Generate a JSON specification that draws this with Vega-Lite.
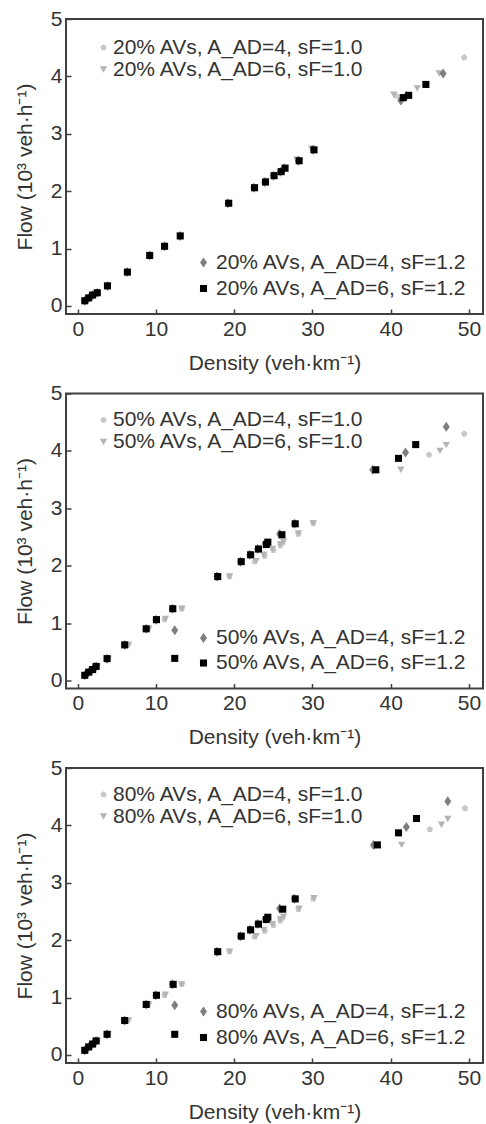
{
  "$schema": "https://vega.github.io/schema/vega-lite/v6.json",
  "padding": {"left": 13, "top": 7, "right": 0, "bottom": 0},
  "bounds": "flush",
  "spacing": 79.5,
  "config": {
    "font": "Liberation Sans",
    "view": {"stroke": "#404040", "strokeWidth": 2},
    "axis": {"domain": false, "grid": false, "tickColor": "#404040", "tickSize": -5, "tickWidth": 1.5, "labelFlush": false, "labelFont": "Liberation Sans", "labelFontSize": 21, "labelColor": "#333333", "titleFont": "Liberation Sans", "titleFontSize": 21, "titleFontWeight": "normal", "titleColor": "#333333", "format": "d"},
    "axisX": {"labelPadding": 9, "titlePadding": 13},
    "axisY": {"labelPadding": 9, "titlePadding": 15},
    "legend": {"labelFont": "Liberation Sans", "labelFontSize": 21, "labelColor": "#333333", "symbolStrokeWidth": 0, "padding": 0, "labelLimit": 400}
  },
  "datasets": {
    "d": [
      {"p":"20","s":"20% AVs, A_AD=4, sF=1.0","g":"1.0","k":0.95,"q":0.09},
      {"p":"20","s":"20% AVs, A_AD=4, sF=1.0","g":"1.0","k":1.45,"q":0.14},
      {"p":"20","s":"20% AVs, A_AD=4, sF=1.0","g":"1.0","k":1.95,"q":0.19},
      {"p":"20","s":"20% AVs, A_AD=4, sF=1.0","g":"1.0","k":2.5,"q":0.23},
      {"p":"20","s":"20% AVs, A_AD=4, sF=1.0","g":"1.0","k":3.85,"q":0.35},
      {"p":"20","s":"20% AVs, A_AD=4, sF=1.0","g":"1.0","k":6.4,"q":0.59},
      {"p":"20","s":"20% AVs, A_AD=4, sF=1.0","g":"1.0","k":9.2,"q":0.88},
      {"p":"20","s":"20% AVs, A_AD=4, sF=1.0","g":"1.0","k":11.1,"q":1.04},
      {"p":"20","s":"20% AVs, A_AD=4, sF=1.0","g":"1.0","k":13.1,"q":1.22},
      {"p":"20","s":"20% AVs, A_AD=4, sF=1.0","g":"1.0","k":19.3,"q":1.79},
      {"p":"20","s":"20% AVs, A_AD=4, sF=1.0","g":"1.0","k":22.6,"q":2.06},
      {"p":"20","s":"20% AVs, A_AD=4, sF=1.0","g":"1.0","k":24.0,"q":2.16},
      {"p":"20","s":"20% AVs, A_AD=4, sF=1.0","g":"1.0","k":25.1,"q":2.27},
      {"p":"20","s":"20% AVs, A_AD=4, sF=1.0","g":"1.0","k":26.0,"q":2.34},
      {"p":"20","s":"20% AVs, A_AD=4, sF=1.0","g":"1.0","k":26.5,"q":2.4},
      {"p":"20","s":"20% AVs, A_AD=4, sF=1.0","g":"1.0","k":28.3,"q":2.53},
      {"p":"20","s":"20% AVs, A_AD=4, sF=1.0","g":"1.0","k":30.2,"q":2.72},
      {"p":"20","s":"20% AVs, A_AD=4, sF=1.0","g":"1.0","k":40.7,"q":3.66},
      {"p":"20","s":"20% AVs, A_AD=4, sF=1.0","g":"1.0","k":41.6,"q":3.6},
      {"p":"20","s":"20% AVs, A_AD=4, sF=1.0","g":"1.0","k":49.4,"q":4.33},
      {"p":"20","s":"20% AVs, A_AD=6, sF=1.0","g":"1.0","k":0.95,"q":0.09},
      {"p":"20","s":"20% AVs, A_AD=6, sF=1.0","g":"1.0","k":1.45,"q":0.14},
      {"p":"20","s":"20% AVs, A_AD=6, sF=1.0","g":"1.0","k":1.95,"q":0.19},
      {"p":"20","s":"20% AVs, A_AD=6, sF=1.0","g":"1.0","k":2.5,"q":0.23},
      {"p":"20","s":"20% AVs, A_AD=6, sF=1.0","g":"1.0","k":3.85,"q":0.35},
      {"p":"20","s":"20% AVs, A_AD=6, sF=1.0","g":"1.0","k":6.4,"q":0.59},
      {"p":"20","s":"20% AVs, A_AD=6, sF=1.0","g":"1.0","k":9.2,"q":0.88},
      {"p":"20","s":"20% AVs, A_AD=6, sF=1.0","g":"1.0","k":11.1,"q":1.04},
      {"p":"20","s":"20% AVs, A_AD=6, sF=1.0","g":"1.0","k":13.1,"q":1.22},
      {"p":"20","s":"20% AVs, A_AD=6, sF=1.0","g":"1.0","k":19.3,"q":1.79},
      {"p":"20","s":"20% AVs, A_AD=6, sF=1.0","g":"1.0","k":22.6,"q":2.07},
      {"p":"20","s":"20% AVs, A_AD=6, sF=1.0","g":"1.0","k":24.1,"q":2.18},
      {"p":"20","s":"20% AVs, A_AD=6, sF=1.0","g":"1.0","k":25.1,"q":2.28},
      {"p":"20","s":"20% AVs, A_AD=6, sF=1.0","g":"1.0","k":26.0,"q":2.35},
      {"p":"20","s":"20% AVs, A_AD=6, sF=1.0","g":"1.0","k":26.5,"q":2.41},
      {"p":"20","s":"20% AVs, A_AD=6, sF=1.0","g":"1.0","k":28.0,"q":2.55},
      {"p":"20","s":"20% AVs, A_AD=6, sF=1.0","g":"1.0","k":29.9,"q":2.74},
      {"p":"20","s":"20% AVs, A_AD=6, sF=1.0","g":"1.0","k":40.4,"q":3.68},
      {"p":"20","s":"20% AVs, A_AD=6, sF=1.0","g":"1.0","k":41.3,"q":3.57},
      {"p":"20","s":"20% AVs, A_AD=6, sF=1.0","g":"1.0","k":43.4,"q":3.79},
      {"p":"20","s":"20% AVs, A_AD=6, sF=1.0","g":"1.0","k":46.2,"q":4.05},
      {"p":"20","s":"20% AVs, A_AD=4, sF=1.2","g":"1.2","k":0.9,"q":0.09},
      {"p":"20","s":"20% AVs, A_AD=4, sF=1.2","g":"1.2","k":1.4,"q":0.14},
      {"p":"20","s":"20% AVs, A_AD=4, sF=1.2","g":"1.2","k":1.9,"q":0.19},
      {"p":"20","s":"20% AVs, A_AD=4, sF=1.2","g":"1.2","k":2.5,"q":0.23},
      {"p":"20","s":"20% AVs, A_AD=4, sF=1.2","g":"1.2","k":3.8,"q":0.35},
      {"p":"20","s":"20% AVs, A_AD=4, sF=1.2","g":"1.2","k":6.3,"q":0.59},
      {"p":"20","s":"20% AVs, A_AD=4, sF=1.2","g":"1.2","k":9.2,"q":0.88},
      {"p":"20","s":"20% AVs, A_AD=4, sF=1.2","g":"1.2","k":11.1,"q":1.04},
      {"p":"20","s":"20% AVs, A_AD=4, sF=1.2","g":"1.2","k":13.1,"q":1.22},
      {"p":"20","s":"20% AVs, A_AD=4, sF=1.2","g":"1.2","k":19.2,"q":1.79},
      {"p":"20","s":"20% AVs, A_AD=4, sF=1.2","g":"1.2","k":22.5,"q":2.06},
      {"p":"20","s":"20% AVs, A_AD=4, sF=1.2","g":"1.2","k":23.9,"q":2.16},
      {"p":"20","s":"20% AVs, A_AD=4, sF=1.2","g":"1.2","k":25.0,"q":2.27},
      {"p":"20","s":"20% AVs, A_AD=4, sF=1.2","g":"1.2","k":25.9,"q":2.34},
      {"p":"20","s":"20% AVs, A_AD=4, sF=1.2","g":"1.2","k":26.4,"q":2.4},
      {"p":"20","s":"20% AVs, A_AD=4, sF=1.2","g":"1.2","k":28.2,"q":2.53},
      {"p":"20","s":"20% AVs, A_AD=4, sF=1.2","g":"1.2","k":30.1,"q":2.72},
      {"p":"20","s":"20% AVs, A_AD=4, sF=1.2","g":"1.2","k":41.3,"q":3.58},
      {"p":"20","s":"20% AVs, A_AD=4, sF=1.2","g":"1.2","k":42.0,"q":3.66},
      {"p":"20","s":"20% AVs, A_AD=4, sF=1.2","g":"1.2","k":46.7,"q":4.05},
      {"p":"20","s":"20% AVs, A_AD=6, sF=1.2","g":"1.2","k":0.9,"q":0.09},
      {"p":"20","s":"20% AVs, A_AD=6, sF=1.2","g":"1.2","k":1.4,"q":0.14},
      {"p":"20","s":"20% AVs, A_AD=6, sF=1.2","g":"1.2","k":1.9,"q":0.19},
      {"p":"20","s":"20% AVs, A_AD=6, sF=1.2","g":"1.2","k":2.5,"q":0.23},
      {"p":"20","s":"20% AVs, A_AD=6, sF=1.2","g":"1.2","k":3.8,"q":0.35},
      {"p":"20","s":"20% AVs, A_AD=6, sF=1.2","g":"1.2","k":6.35,"q":0.59},
      {"p":"20","s":"20% AVs, A_AD=6, sF=1.2","g":"1.2","k":9.2,"q":0.88},
      {"p":"20","s":"20% AVs, A_AD=6, sF=1.2","g":"1.2","k":11.1,"q":1.04},
      {"p":"20","s":"20% AVs, A_AD=6, sF=1.2","g":"1.2","k":13.1,"q":1.22},
      {"p":"20","s":"20% AVs, A_AD=6, sF=1.2","g":"1.2","k":19.3,"q":1.79},
      {"p":"20","s":"20% AVs, A_AD=6, sF=1.2","g":"1.2","k":22.6,"q":2.06},
      {"p":"20","s":"20% AVs, A_AD=6, sF=1.2","g":"1.2","k":24.0,"q":2.16},
      {"p":"20","s":"20% AVs, A_AD=6, sF=1.2","g":"1.2","k":25.1,"q":2.27},
      {"p":"20","s":"20% AVs, A_AD=6, sF=1.2","g":"1.2","k":26.0,"q":2.34},
      {"p":"20","s":"20% AVs, A_AD=6, sF=1.2","g":"1.2","k":26.5,"q":2.4},
      {"p":"20","s":"20% AVs, A_AD=6, sF=1.2","g":"1.2","k":28.3,"q":2.53},
      {"p":"20","s":"20% AVs, A_AD=6, sF=1.2","g":"1.2","k":30.2,"q":2.72},
      {"p":"20","s":"20% AVs, A_AD=6, sF=1.2","g":"1.2","k":41.6,"q":3.63},
      {"p":"20","s":"20% AVs, A_AD=6, sF=1.2","g":"1.2","k":42.3,"q":3.67},
      {"p":"20","s":"20% AVs, A_AD=6, sF=1.2","g":"1.2","k":44.5,"q":3.86},

      {"p":"50","s":"50% AVs, A_AD=4, sF=1.0","g":"1.0","k":1.0,"q":0.09},
      {"p":"50","s":"50% AVs, A_AD=4, sF=1.0","g":"1.0","k":1.5,"q":0.14},
      {"p":"50","s":"50% AVs, A_AD=4, sF=1.0","g":"1.0","k":2.0,"q":0.19},
      {"p":"50","s":"50% AVs, A_AD=4, sF=1.0","g":"1.0","k":2.5,"q":0.24},
      {"p":"50","s":"50% AVs, A_AD=4, sF=1.0","g":"1.0","k":3.9,"q":0.38},
      {"p":"50","s":"50% AVs, A_AD=4, sF=1.0","g":"1.0","k":6.4,"q":0.62},
      {"p":"50","s":"50% AVs, A_AD=4, sF=1.0","g":"1.0","k":9.0,"q":0.9},
      {"p":"50","s":"50% AVs, A_AD=4, sF=1.0","g":"1.0","k":11.1,"q":1.06},
      {"p":"50","s":"50% AVs, A_AD=4, sF=1.0","g":"1.0","k":13.3,"q":1.25},
      {"p":"50","s":"50% AVs, A_AD=4, sF=1.0","g":"1.0","k":19.4,"q":1.81},
      {"p":"50","s":"50% AVs, A_AD=4, sF=1.0","g":"1.0","k":22.6,"q":2.07},
      {"p":"50","s":"50% AVs, A_AD=4, sF=1.0","g":"1.0","k":23.9,"q":2.17},
      {"p":"50","s":"50% AVs, A_AD=4, sF=1.0","g":"1.0","k":25.0,"q":2.27},
      {"p":"50","s":"50% AVs, A_AD=4, sF=1.0","g":"1.0","k":25.9,"q":2.35},
      {"p":"50","s":"50% AVs, A_AD=4, sF=1.0","g":"1.0","k":26.2,"q":2.4},
      {"p":"50","s":"50% AVs, A_AD=4, sF=1.0","g":"1.0","k":28.2,"q":2.55},
      {"p":"50","s":"50% AVs, A_AD=4, sF=1.0","g":"1.0","k":30.1,"q":2.74},
      {"p":"50","s":"50% AVs, A_AD=4, sF=1.0","g":"1.0","k":37.9,"q":3.66},
      {"p":"50","s":"50% AVs, A_AD=4, sF=1.0","g":"1.0","k":44.9,"q":3.93},
      {"p":"50","s":"50% AVs, A_AD=4, sF=1.0","g":"1.0","k":49.4,"q":4.3},
      {"p":"50","s":"50% AVs, A_AD=6, sF=1.0","g":"1.0","k":1.0,"q":0.09},
      {"p":"50","s":"50% AVs, A_AD=6, sF=1.0","g":"1.0","k":1.5,"q":0.14},
      {"p":"50","s":"50% AVs, A_AD=6, sF=1.0","g":"1.0","k":2.0,"q":0.19},
      {"p":"50","s":"50% AVs, A_AD=6, sF=1.0","g":"1.0","k":2.5,"q":0.24},
      {"p":"50","s":"50% AVs, A_AD=6, sF=1.0","g":"1.0","k":3.9,"q":0.38},
      {"p":"50","s":"50% AVs, A_AD=6, sF=1.0","g":"1.0","k":6.5,"q":0.62},
      {"p":"50","s":"50% AVs, A_AD=6, sF=1.0","g":"1.0","k":9.1,"q":0.9},
      {"p":"50","s":"50% AVs, A_AD=6, sF=1.0","g":"1.0","k":11.2,"q":1.07},
      {"p":"50","s":"50% AVs, A_AD=6, sF=1.0","g":"1.0","k":13.3,"q":1.25},
      {"p":"50","s":"50% AVs, A_AD=6, sF=1.0","g":"1.0","k":19.4,"q":1.81},
      {"p":"50","s":"50% AVs, A_AD=6, sF=1.0","g":"1.0","k":22.8,"q":2.08},
      {"p":"50","s":"50% AVs, A_AD=6, sF=1.0","g":"1.0","k":23.8,"q":2.19},
      {"p":"50","s":"50% AVs, A_AD=6, sF=1.0","g":"1.0","k":24.9,"q":2.29},
      {"p":"50","s":"50% AVs, A_AD=6, sF=1.0","g":"1.0","k":25.9,"q":2.37},
      {"p":"50","s":"50% AVs, A_AD=6, sF=1.0","g":"1.0","k":26.3,"q":2.42},
      {"p":"50","s":"50% AVs, A_AD=6, sF=1.0","g":"1.0","k":28.2,"q":2.56},
      {"p":"50","s":"50% AVs, A_AD=6, sF=1.0","g":"1.0","k":30.1,"q":2.74},
      {"p":"50","s":"50% AVs, A_AD=6, sF=1.0","g":"1.0","k":41.3,"q":3.67},
      {"p":"50","s":"50% AVs, A_AD=6, sF=1.0","g":"1.0","k":46.3,"q":4.0},
      {"p":"50","s":"50% AVs, A_AD=6, sF=1.0","g":"1.0","k":47.1,"q":4.1},
      {"p":"50","s":"50% AVs, A_AD=4, sF=1.2","g":"1.2","k":0.9,"q":0.09},
      {"p":"50","s":"50% AVs, A_AD=4, sF=1.2","g":"1.2","k":1.4,"q":0.145},
      {"p":"50","s":"50% AVs, A_AD=4, sF=1.2","g":"1.2","k":1.9,"q":0.19},
      {"p":"50","s":"50% AVs, A_AD=4, sF=1.2","g":"1.2","k":2.35,"q":0.245},
      {"p":"50","s":"50% AVs, A_AD=4, sF=1.2","g":"1.2","k":3.75,"q":0.38},
      {"p":"50","s":"50% AVs, A_AD=4, sF=1.2","g":"1.2","k":6.0,"q":0.62},
      {"p":"50","s":"50% AVs, A_AD=4, sF=1.2","g":"1.2","k":8.75,"q":0.9},
      {"p":"50","s":"50% AVs, A_AD=4, sF=1.2","g":"1.2","k":10.0,"q":1.06},
      {"p":"50","s":"50% AVs, A_AD=4, sF=1.2","g":"1.2","k":12.1,"q":1.25},
      {"p":"50","s":"50% AVs, A_AD=4, sF=1.2","g":"1.2","k":12.4,"q":0.875},
      {"p":"50","s":"50% AVs, A_AD=4, sF=1.2","g":"1.2","k":17.8,"q":1.81},
      {"p":"50","s":"50% AVs, A_AD=4, sF=1.2","g":"1.2","k":20.8,"q":2.07},
      {"p":"50","s":"50% AVs, A_AD=4, sF=1.2","g":"1.2","k":22.0,"q":2.19},
      {"p":"50","s":"50% AVs, A_AD=4, sF=1.2","g":"1.2","k":23.0,"q":2.29},
      {"p":"50","s":"50% AVs, A_AD=4, sF=1.2","g":"1.2","k":24.0,"q":2.38},
      {"p":"50","s":"50% AVs, A_AD=4, sF=1.2","g":"1.2","k":25.8,"q":2.55},
      {"p":"50","s":"50% AVs, A_AD=4, sF=1.2","g":"1.2","k":27.7,"q":2.73},
      {"p":"50","s":"50% AVs, A_AD=4, sF=1.2","g":"1.2","k":37.7,"q":3.67},
      {"p":"50","s":"50% AVs, A_AD=4, sF=1.2","g":"1.2","k":41.9,"q":3.97},
      {"p":"50","s":"50% AVs, A_AD=4, sF=1.2","g":"1.2","k":47.1,"q":4.42},
      {"p":"50","s":"50% AVs, A_AD=6, sF=1.2","g":"1.2","k":0.9,"q":0.09},
      {"p":"50","s":"50% AVs, A_AD=6, sF=1.2","g":"1.2","k":1.4,"q":0.145},
      {"p":"50","s":"50% AVs, A_AD=6, sF=1.2","g":"1.2","k":1.9,"q":0.19},
      {"p":"50","s":"50% AVs, A_AD=6, sF=1.2","g":"1.2","k":2.35,"q":0.245},
      {"p":"50","s":"50% AVs, A_AD=6, sF=1.2","g":"1.2","k":3.75,"q":0.38},
      {"p":"50","s":"50% AVs, A_AD=6, sF=1.2","g":"1.2","k":6.0,"q":0.62},
      {"p":"50","s":"50% AVs, A_AD=6, sF=1.2","g":"1.2","k":8.75,"q":0.9},
      {"p":"50","s":"50% AVs, A_AD=6, sF=1.2","g":"1.2","k":10.06,"q":1.06},
      {"p":"50","s":"50% AVs, A_AD=6, sF=1.2","g":"1.2","k":12.15,"q":1.25},
      {"p":"50","s":"50% AVs, A_AD=6, sF=1.2","g":"1.2","k":12.4,"q":0.385},
      {"p":"50","s":"50% AVs, A_AD=6, sF=1.2","g":"1.2","k":17.9,"q":1.81},
      {"p":"50","s":"50% AVs, A_AD=6, sF=1.2","g":"1.2","k":20.9,"q":2.07},
      {"p":"50","s":"50% AVs, A_AD=6, sF=1.2","g":"1.2","k":22.1,"q":2.19},
      {"p":"50","s":"50% AVs, A_AD=6, sF=1.2","g":"1.2","k":23.1,"q":2.29},
      {"p":"50","s":"50% AVs, A_AD=6, sF=1.2","g":"1.2","k":24.1,"q":2.37},
      {"p":"50","s":"50% AVs, A_AD=6, sF=1.2","g":"1.2","k":24.3,"q":2.41},
      {"p":"50","s":"50% AVs, A_AD=6, sF=1.2","g":"1.2","k":26.1,"q":2.54},
      {"p":"50","s":"50% AVs, A_AD=6, sF=1.2","g":"1.2","k":27.8,"q":2.73},
      {"p":"50","s":"50% AVs, A_AD=6, sF=1.2","g":"1.2","k":38.1,"q":3.67},
      {"p":"50","s":"50% AVs, A_AD=6, sF=1.2","g":"1.2","k":41.0,"q":3.87},
      {"p":"50","s":"50% AVs, A_AD=6, sF=1.2","g":"1.2","k":43.2,"q":4.11},

      {"p":"80","s":"80% AVs, A_AD=4, sF=1.0","g":"1.0","k":1.0,"q":0.08},
      {"p":"80","s":"80% AVs, A_AD=4, sF=1.0","g":"1.0","k":1.5,"q":0.14},
      {"p":"80","s":"80% AVs, A_AD=4, sF=1.0","g":"1.0","k":2.0,"q":0.19},
      {"p":"80","s":"80% AVs, A_AD=4, sF=1.0","g":"1.0","k":2.5,"q":0.24},
      {"p":"80","s":"80% AVs, A_AD=4, sF=1.0","g":"1.0","k":3.9,"q":0.36},
      {"p":"80","s":"80% AVs, A_AD=4, sF=1.0","g":"1.0","k":6.4,"q":0.6},
      {"p":"80","s":"80% AVs, A_AD=4, sF=1.0","g":"1.0","k":9.0,"q":0.88},
      {"p":"80","s":"80% AVs, A_AD=4, sF=1.0","g":"1.0","k":11.1,"q":1.04},
      {"p":"80","s":"80% AVs, A_AD=4, sF=1.0","g":"1.0","k":13.3,"q":1.23},
      {"p":"80","s":"80% AVs, A_AD=4, sF=1.0","g":"1.0","k":19.4,"q":1.8},
      {"p":"80","s":"80% AVs, A_AD=4, sF=1.0","g":"1.0","k":22.6,"q":2.06},
      {"p":"80","s":"80% AVs, A_AD=4, sF=1.0","g":"1.0","k":23.9,"q":2.16},
      {"p":"80","s":"80% AVs, A_AD=4, sF=1.0","g":"1.0","k":25.0,"q":2.26},
      {"p":"80","s":"80% AVs, A_AD=4, sF=1.0","g":"1.0","k":25.9,"q":2.34},
      {"p":"80","s":"80% AVs, A_AD=4, sF=1.0","g":"1.0","k":26.2,"q":2.39},
      {"p":"80","s":"80% AVs, A_AD=4, sF=1.0","g":"1.0","k":28.2,"q":2.54},
      {"p":"80","s":"80% AVs, A_AD=4, sF=1.0","g":"1.0","k":30.1,"q":2.72},
      {"p":"80","s":"80% AVs, A_AD=4, sF=1.0","g":"1.0","k":38.0,"q":3.65},
      {"p":"80","s":"80% AVs, A_AD=4, sF=1.0","g":"1.0","k":45.0,"q":3.93},
      {"p":"80","s":"80% AVs, A_AD=4, sF=1.0","g":"1.0","k":49.5,"q":4.3},
      {"p":"80","s":"80% AVs, A_AD=6, sF=1.0","g":"1.0","k":1.0,"q":0.08},
      {"p":"80","s":"80% AVs, A_AD=6, sF=1.0","g":"1.0","k":1.5,"q":0.14},
      {"p":"80","s":"80% AVs, A_AD=6, sF=1.0","g":"1.0","k":2.0,"q":0.19},
      {"p":"80","s":"80% AVs, A_AD=6, sF=1.0","g":"1.0","k":2.5,"q":0.24},
      {"p":"80","s":"80% AVs, A_AD=6, sF=1.0","g":"1.0","k":3.9,"q":0.36},
      {"p":"80","s":"80% AVs, A_AD=6, sF=1.0","g":"1.0","k":6.5,"q":0.6},
      {"p":"80","s":"80% AVs, A_AD=6, sF=1.0","g":"1.0","k":9.1,"q":0.88},
      {"p":"80","s":"80% AVs, A_AD=6, sF=1.0","g":"1.0","k":11.2,"q":1.05},
      {"p":"80","s":"80% AVs, A_AD=6, sF=1.0","g":"1.0","k":13.3,"q":1.23},
      {"p":"80","s":"80% AVs, A_AD=6, sF=1.0","g":"1.0","k":19.4,"q":1.8},
      {"p":"80","s":"80% AVs, A_AD=6, sF=1.0","g":"1.0","k":22.8,"q":2.07},
      {"p":"80","s":"80% AVs, A_AD=6, sF=1.0","g":"1.0","k":23.8,"q":2.18},
      {"p":"80","s":"80% AVs, A_AD=6, sF=1.0","g":"1.0","k":24.9,"q":2.28},
      {"p":"80","s":"80% AVs, A_AD=6, sF=1.0","g":"1.0","k":25.9,"q":2.36},
      {"p":"80","s":"80% AVs, A_AD=6, sF=1.0","g":"1.0","k":26.3,"q":2.41},
      {"p":"80","s":"80% AVs, A_AD=6, sF=1.0","g":"1.0","k":28.3,"q":2.55},
      {"p":"80","s":"80% AVs, A_AD=6, sF=1.0","g":"1.0","k":30.2,"q":2.73},
      {"p":"80","s":"80% AVs, A_AD=6, sF=1.0","g":"1.0","k":41.4,"q":3.66},
      {"p":"80","s":"80% AVs, A_AD=6, sF=1.0","g":"1.0","k":46.5,"q":4.01},
      {"p":"80","s":"80% AVs, A_AD=6, sF=1.0","g":"1.0","k":47.3,"q":4.11},
      {"p":"80","s":"80% AVs, A_AD=4, sF=1.2","g":"1.2","k":0.9,"q":0.08},
      {"p":"80","s":"80% AVs, A_AD=4, sF=1.2","g":"1.2","k":1.4,"q":0.14},
      {"p":"80","s":"80% AVs, A_AD=4, sF=1.2","g":"1.2","k":1.9,"q":0.19},
      {"p":"80","s":"80% AVs, A_AD=4, sF=1.2","g":"1.2","k":2.35,"q":0.245},
      {"p":"80","s":"80% AVs, A_AD=4, sF=1.2","g":"1.2","k":3.75,"q":0.36},
      {"p":"80","s":"80% AVs, A_AD=4, sF=1.2","g":"1.2","k":6.0,"q":0.6},
      {"p":"80","s":"80% AVs, A_AD=4, sF=1.2","g":"1.2","k":8.75,"q":0.88},
      {"p":"80","s":"80% AVs, A_AD=4, sF=1.2","g":"1.2","k":10.0,"q":1.04},
      {"p":"80","s":"80% AVs, A_AD=4, sF=1.2","g":"1.2","k":12.1,"q":1.23},
      {"p":"80","s":"80% AVs, A_AD=4, sF=1.2","g":"1.2","k":12.4,"q":0.865},
      {"p":"80","s":"80% AVs, A_AD=4, sF=1.2","g":"1.2","k":17.8,"q":1.8},
      {"p":"80","s":"80% AVs, A_AD=4, sF=1.2","g":"1.2","k":20.8,"q":2.07},
      {"p":"80","s":"80% AVs, A_AD=4, sF=1.2","g":"1.2","k":22.0,"q":2.18},
      {"p":"80","s":"80% AVs, A_AD=4, sF=1.2","g":"1.2","k":23.0,"q":2.28},
      {"p":"80","s":"80% AVs, A_AD=4, sF=1.2","g":"1.2","k":24.0,"q":2.37},
      {"p":"80","s":"80% AVs, A_AD=4, sF=1.2","g":"1.2","k":25.8,"q":2.55},
      {"p":"80","s":"80% AVs, A_AD=4, sF=1.2","g":"1.2","k":27.7,"q":2.72},
      {"p":"80","s":"80% AVs, A_AD=4, sF=1.2","g":"1.2","k":37.8,"q":3.66},
      {"p":"80","s":"80% AVs, A_AD=4, sF=1.2","g":"1.2","k":42.0,"q":3.97},
      {"p":"80","s":"80% AVs, A_AD=4, sF=1.2","g":"1.2","k":47.3,"q":4.42},
      {"p":"80","s":"80% AVs, A_AD=6, sF=1.2","g":"1.2","k":0.9,"q":0.08},
      {"p":"80","s":"80% AVs, A_AD=6, sF=1.2","g":"1.2","k":1.4,"q":0.14},
      {"p":"80","s":"80% AVs, A_AD=6, sF=1.2","g":"1.2","k":1.9,"q":0.19},
      {"p":"80","s":"80% AVs, A_AD=6, sF=1.2","g":"1.2","k":2.35,"q":0.245},
      {"p":"80","s":"80% AVs, A_AD=6, sF=1.2","g":"1.2","k":3.75,"q":0.36},
      {"p":"80","s":"80% AVs, A_AD=6, sF=1.2","g":"1.2","k":6.0,"q":0.6},
      {"p":"80","s":"80% AVs, A_AD=6, sF=1.2","g":"1.2","k":8.75,"q":0.88},
      {"p":"80","s":"80% AVs, A_AD=6, sF=1.2","g":"1.2","k":10.06,"q":1.04},
      {"p":"80","s":"80% AVs, A_AD=6, sF=1.2","g":"1.2","k":12.2,"q":1.23},
      {"p":"80","s":"80% AVs, A_AD=6, sF=1.2","g":"1.2","k":12.4,"q":0.36},
      {"p":"80","s":"80% AVs, A_AD=6, sF=1.2","g":"1.2","k":17.9,"q":1.8},
      {"p":"80","s":"80% AVs, A_AD=6, sF=1.2","g":"1.2","k":20.9,"q":2.07},
      {"p":"80","s":"80% AVs, A_AD=6, sF=1.2","g":"1.2","k":22.1,"q":2.18},
      {"p":"80","s":"80% AVs, A_AD=6, sF=1.2","g":"1.2","k":23.1,"q":2.28},
      {"p":"80","s":"80% AVs, A_AD=6, sF=1.2","g":"1.2","k":24.1,"q":2.36},
      {"p":"80","s":"80% AVs, A_AD=6, sF=1.2","g":"1.2","k":24.3,"q":2.4},
      {"p":"80","s":"80% AVs, A_AD=6, sF=1.2","g":"1.2","k":26.2,"q":2.54},
      {"p":"80","s":"80% AVs, A_AD=6, sF=1.2","g":"1.2","k":27.8,"q":2.72},
      {"p":"80","s":"80% AVs, A_AD=6, sF=1.2","g":"1.2","k":38.3,"q":3.66},
      {"p":"80","s":"80% AVs, A_AD=6, sF=1.2","g":"1.2","k":41.0,"q":3.87},
      {"p":"80","s":"80% AVs, A_AD=6, sF=1.2","g":"1.2","k":43.3,"q":4.12}
    ]
  },
  "vconcat": [
    {
      "width": 417, "height": 295,
      "data": {"name": "d"},
      "layer": [
        {
          "transform": [{"filter": "datum.p == '20' && datum.g == '1.0'"}],
          "mark": {"type": "point", "filled": true, "opacity": 1},
          "encoding": {
            "x": {"field": "k", "type": "quantitative", "scale": {"domain": [-1.5, 51.8], "nice": false, "zero": false}, "axis": {"values": [0, 10, 20, 30, 40, 50], "title": "Density (veh·km⁻¹)"}},
            "y": {"field": "q", "type": "quantitative", "scale": {"domain": [-0.14, 5], "nice": false, "zero": false}, "axis": {"values": [0, 1, 2, 3, 4, 5], "title": "Flow (10³ veh·h⁻¹)"}},
            "color": {"field": "s", "type": "nominal", "scale": {"domain": ["20% AVs, A_AD=4, sF=1.0", "20% AVs, A_AD=6, sF=1.0"], "range": ["#c8c8c8", "#b4b4b4"]}, "legend": {"title": null, "orient": "none", "legendX": 27, "legendY": 18, "labelOffset": -1, "rowPadding": 0}},
            "shape": {"field": "s", "type": "nominal", "scale": {"domain": ["20% AVs, A_AD=4, sF=1.0", "20% AVs, A_AD=6, sF=1.0"], "range": ["M0,-1L0.951,-0.309L0.588,0.809L-0.588,0.809L-0.951,-0.309Z", "triangle-down"]}, "legend": {"title": null, "orient": "none", "legendX": 27, "legendY": 18, "labelOffset": -1, "rowPadding": 0}},
            "size": {"field": "s", "type": "nominal", "scale": {"domain": ["20% AVs, A_AD=4, sF=1.0", "20% AVs, A_AD=6, sF=1.0"], "range": [45, 55]}, "legend": {"title": null, "orient": "none", "legendX": 27, "legendY": 18, "labelOffset": -1, "rowPadding": 0}}
          }
        },
        {
          "transform": [{"filter": "datum.p == '20' && datum.g == '1.2'"}],
          "mark": {"type": "point", "filled": true, "opacity": 1},
          "encoding": {
            "x": {"field": "k", "type": "quantitative"},
            "y": {"field": "q", "type": "quantitative"},
            "color": {"field": "s", "type": "nominal", "scale": {"domain": ["20% AVs, A_AD=4, sF=1.2", "20% AVs, A_AD=6, sF=1.2"], "range": ["#7f7f7f", "#000000"]}, "legend": {"title": null, "orient": "none", "legendX": 127, "legendY": 233, "labelOffset": 2, "rowPadding": 4}},
            "shape": {"field": "s", "type": "nominal", "scale": {"domain": ["20% AVs, A_AD=4, sF=1.2", "20% AVs, A_AD=6, sF=1.2"], "range": ["M0,-1L0.7,0L0,1L-0.7,0Z", "square"]}, "legend": {"title": null, "orient": "none", "legendX": 127, "legendY": 233, "labelOffset": 2, "rowPadding": 4}},
            "size": {"field": "s", "type": "nominal", "scale": {"domain": ["20% AVs, A_AD=4, sF=1.2", "20% AVs, A_AD=6, sF=1.2"], "range": [100, 50]}, "legend": {"title": null, "orient": "none", "legendX": 127, "legendY": 233, "labelOffset": 2, "rowPadding": 4}}
          }
        }
      ],
      "resolve": {"scale": {"color": "independent", "shape": "independent", "size": "independent"}}
    },
    {
      "width": 417, "height": 295,
      "data": {"name": "d"},
      "layer": [
        {
          "transform": [{"filter": "datum.p == '50' && datum.g == '1.0'"}],
          "mark": {"type": "point", "filled": true, "opacity": 1},
          "encoding": {
            "x": {"field": "k", "type": "quantitative", "scale": {"domain": [-1.5, 51.8], "nice": false, "zero": false}, "axis": {"values": [0, 10, 20, 30, 40, 50], "title": "Density (veh·km⁻¹)"}},
            "y": {"field": "q", "type": "quantitative", "scale": {"domain": [-0.14, 5], "nice": false, "zero": false}, "axis": {"values": [0, 1, 2, 3, 4, 5], "title": "Flow (10³ veh·h⁻¹)"}},
            "color": {"field": "s", "type": "nominal", "scale": {"domain": ["50% AVs, A_AD=4, sF=1.0", "50% AVs, A_AD=6, sF=1.0"], "range": ["#c8c8c8", "#b4b4b4"]}, "legend": {"title": null, "orient": "none", "legendX": 27, "legendY": 16, "labelOffset": -1, "rowPadding": 0}},
            "shape": {"field": "s", "type": "nominal", "scale": {"domain": ["50% AVs, A_AD=4, sF=1.0", "50% AVs, A_AD=6, sF=1.0"], "range": ["M0,-1L0.951,-0.309L0.588,0.809L-0.588,0.809L-0.951,-0.309Z", "triangle-down"]}, "legend": {"title": null, "orient": "none", "legendX": 27, "legendY": 16, "labelOffset": -1, "rowPadding": 0}},
            "size": {"field": "s", "type": "nominal", "scale": {"domain": ["50% AVs, A_AD=4, sF=1.0", "50% AVs, A_AD=6, sF=1.0"], "range": [45, 55]}, "legend": {"title": null, "orient": "none", "legendX": 27, "legendY": 16, "labelOffset": -1, "rowPadding": 0}}
          }
        },
        {
          "transform": [{"filter": "datum.p == '50' && datum.g == '1.2'"}],
          "mark": {"type": "point", "filled": true, "opacity": 1},
          "encoding": {
            "x": {"field": "k", "type": "quantitative"},
            "y": {"field": "q", "type": "quantitative"},
            "color": {"field": "s", "type": "nominal", "scale": {"domain": ["50% AVs, A_AD=4, sF=1.2", "50% AVs, A_AD=6, sF=1.2"], "range": ["#7f7f7f", "#000000"]}, "legend": {"title": null, "orient": "none", "legendX": 127, "legendY": 234, "labelOffset": 2, "rowPadding": 3}},
            "shape": {"field": "s", "type": "nominal", "scale": {"domain": ["50% AVs, A_AD=4, sF=1.2", "50% AVs, A_AD=6, sF=1.2"], "range": ["M0,-1L0.7,0L0,1L-0.7,0Z", "square"]}, "legend": {"title": null, "orient": "none", "legendX": 127, "legendY": 234, "labelOffset": 2, "rowPadding": 3}},
            "size": {"field": "s", "type": "nominal", "scale": {"domain": ["50% AVs, A_AD=4, sF=1.2", "50% AVs, A_AD=6, sF=1.2"], "range": [100, 50]}, "legend": {"title": null, "orient": "none", "legendX": 127, "legendY": 234, "labelOffset": 2, "rowPadding": 3}}
          }
        }
      ],
      "resolve": {"scale": {"color": "independent", "shape": "independent", "size": "independent"}}
    },
    {
      "width": 417, "height": 295,
      "data": {"name": "d"},
      "layer": [
        {
          "transform": [{"filter": "datum.p == '80' && datum.g == '1.0'"}],
          "mark": {"type": "point", "filled": true, "opacity": 1},
          "encoding": {
            "x": {"field": "k", "type": "quantitative", "scale": {"domain": [-1.5, 51.8], "nice": false, "zero": false}, "axis": {"values": [0, 10, 20, 30, 40, 50], "title": "Density (veh·km⁻¹)"}},
            "y": {"field": "q", "type": "quantitative", "scale": {"domain": [-0.14, 5], "nice": false, "zero": false}, "axis": {"values": [0, 1, 2, 3, 4, 5], "title": "Flow (10³ veh·h⁻¹)"}},
            "color": {"field": "s", "type": "nominal", "scale": {"domain": ["80% AVs, A_AD=4, sF=1.0", "80% AVs, A_AD=6, sF=1.0"], "range": ["#c8c8c8", "#b4b4b4"]}, "legend": {"title": null, "orient": "none", "legendX": 27, "legendY": 16, "labelOffset": -1, "rowPadding": 0}},
            "shape": {"field": "s", "type": "nominal", "scale": {"domain": ["80% AVs, A_AD=4, sF=1.0", "80% AVs, A_AD=6, sF=1.0"], "range": ["M0,-1L0.951,-0.309L0.588,0.809L-0.588,0.809L-0.951,-0.309Z", "triangle-down"]}, "legend": {"title": null, "orient": "none", "legendX": 27, "legendY": 16, "labelOffset": -1, "rowPadding": 0}},
            "size": {"field": "s", "type": "nominal", "scale": {"domain": ["80% AVs, A_AD=4, sF=1.0", "80% AVs, A_AD=6, sF=1.0"], "range": [45, 55]}, "legend": {"title": null, "orient": "none", "legendX": 27, "legendY": 16, "labelOffset": -1, "rowPadding": 0}}
          }
        },
        {
          "transform": [{"filter": "datum.p == '80' && datum.g == '1.2'"}],
          "mark": {"type": "point", "filled": true, "opacity": 1},
          "encoding": {
            "x": {"field": "k", "type": "quantitative"},
            "y": {"field": "q", "type": "quantitative"},
            "color": {"field": "s", "type": "nominal", "scale": {"domain": ["80% AVs, A_AD=4, sF=1.2", "80% AVs, A_AD=6, sF=1.2"], "range": ["#7f7f7f", "#000000"]}, "legend": {"title": null, "orient": "none", "legendX": 127, "legendY": 233, "labelOffset": 2, "rowPadding": 4}},
            "shape": {"field": "s", "type": "nominal", "scale": {"domain": ["80% AVs, A_AD=4, sF=1.2", "80% AVs, A_AD=6, sF=1.2"], "range": ["M0,-1L0.7,0L0,1L-0.7,0Z", "square"]}, "legend": {"title": null, "orient": "none", "legendX": 127, "legendY": 233, "labelOffset": 2, "rowPadding": 4}},
            "size": {"field": "s", "type": "nominal", "scale": {"domain": ["80% AVs, A_AD=4, sF=1.2", "80% AVs, A_AD=6, sF=1.2"], "range": [100, 50]}, "legend": {"title": null, "orient": "none", "legendX": 127, "legendY": 233, "labelOffset": 2, "rowPadding": 4}}
          }
        }
      ],
      "resolve": {"scale": {"color": "independent", "shape": "independent", "size": "independent"}}
    }
  ]
}
